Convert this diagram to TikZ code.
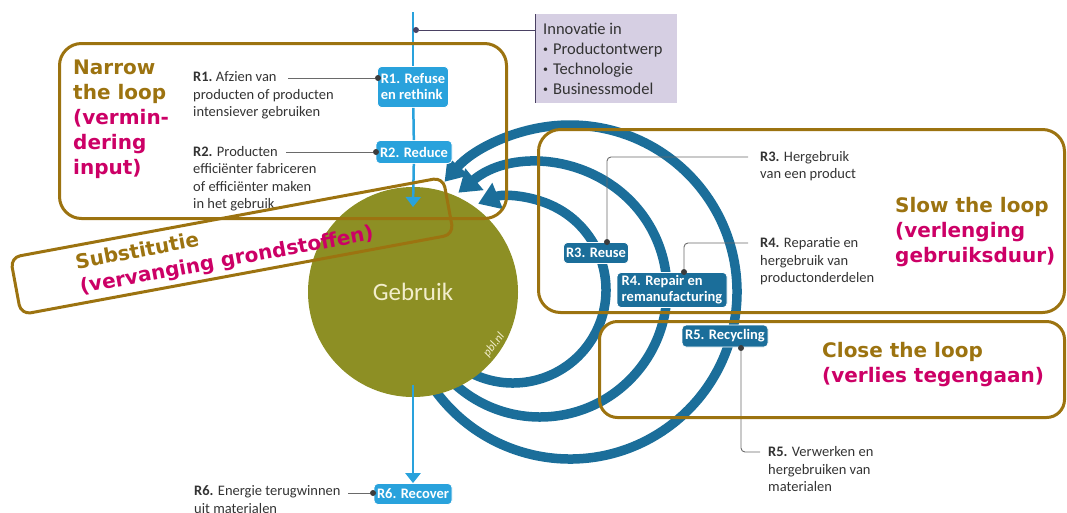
\documentclass[tikz,border=0pt]{standalone}
\usepackage{fontspec}
\setmainfont{Carlito}
\newfontfamily\annotfont{DejaVu Sans}
\usetikzlibrary{arrows.meta}
\definecolor{lblue}{HTML}{29A2DC}
\definecolor{dblue}{HTML}{1B6E9A}
\definecolor{olivec}{HTML}{8D8F24}
\definecolor{brownc}{HTML}{9C7310}
\definecolor{magc}{HTML}{CC0066}
\definecolor{lav}{HTML}{D6CFE3}
\definecolor{lavline}{HTML}{4A4163}
\definecolor{cream}{HTML}{F2EDCB}
\definecolor{greyc}{HTML}{6A6A6A}
\definecolor{dotc}{HTML}{3C3C3C}
\definecolor{txt}{HTML}{333333}
\newcommand{\smallbul}{\raisebox{0.25ex}{\scalebox{0.6}{\textbullet}}\hspace{5pt}}
\begin{document}
\begin{tikzpicture}[x=1pt,y=1pt,
  lbox/.style={fill=lblue, draw=white, line width=0.8pt, rounded corners=4pt, text=white,
    font=\fontsize{14.5}{16}\selectfont\bfseries, inner sep=1pt, align=left},
  dbox/.style={fill=dblue, draw=white, line width=0.8pt, rounded corners=4pt, text=white,
    font=\fontsize{14.5}{16}\selectfont\bfseries, inner sep=1pt, align=left},
  desc/.style={text=txt, font=\fontsize{14.5}{17.5}\selectfont, align=left, anchor=west, inner sep=0pt},
  conn/.style={draw=greyc, line width=0.9pt, rounded corners=4pt},
  cdot/.style={circle, fill=dotc, inner sep=0pt, minimum size=6pt},
  loopbox/.style={draw=brownc, line width=3pt, rounded corners=22pt, inner sep=0pt},
  annot/.style={font=\annotfont\bfseries\fontsize{20}{25}\selectfont, text=brownc, align=left, anchor=west, inner sep=0pt},
  arcline/.style={draw=dblue, line width=9.5pt, -{Triangle[length=21pt,width=27pt]}},
  vline/.style={draw=lblue, line width=2.5pt},
  varrow/.style={vline, -{Triangle[length=10pt,width=15pt]}},
]
\useasboundingbox (0,0) rectangle (1067,-512);

% arc centres
\coordinate (cI) at (513,-290);
\coordinate (cM) at (540,-290);
\coordinate (cO) at (570,-292);

% recycling loops
\draw[arcline] ([shift={(244:93)}]cI) arc[start angle=244, end angle=472, radius=93];
\draw[arcline] ([shift={(226:127)}]cM) arc[start angle=226, end angle=490, radius=127];
\draw[arcline] ([shift={(215:167)}]cO) arc[start angle=215, end angle=498.7, radius=167];

% central circle
\node[circle, fill=olivec, minimum size=210pt, inner sep=0pt, text=cream,
      font=\fontsize{25}{28}\selectfont] (gebruik) at (413,-292) {Gebruik};
\node[text=cream, font=\fontsize{12}{13}\selectfont\itshape, rotate=53, inner sep=0pt] (pbl) at (494,-345) {pbl.nl};

% vertical flow
\coordinate (top) at (413,-12);
\coordinate (tipA) at (413,-207);
\coordinate (botA) at (413,-385);
\node[lbox, minimum width=71pt, minimum height=41pt] (r1) at (413,-87) {R1. Refuse\\en rethink};
\node[lbox, minimum width=76pt, minimum height=23pt] (r2) at (414,-152) {R2. Reduce};
\node[lbox, minimum width=78pt, minimum height=21pt] (r6) at (413,-494) {R6. Recover};
\draw[vline] (top) -- (r1);
\draw[vline] (r1) -- (r2);
\draw[varrow] (r2) -- (tipA);
\draw[varrow] (botA) -- (r6);

% innovation box
\node[fill=lav, minimum width=142pt, minimum height=89pt, anchor=north west, inner sep=0pt] (innov) at (535,-14) {};
\draw[lavline, line width=1pt] (innov.north west) -- (innov.south west);
\node[text=txt, font=\fontsize{16.5}{20}\selectfont, align=left, anchor=west, inner sep=0pt] (innovtxt) at (543,-59)
  {Innovatie in\\\smallbul Productontwerp\\\smallbul Technologie\\\smallbul Businessmodel};
\node[circle, fill=lavline, inner sep=0pt, minimum size=6pt] (idot) at (416,-30) {};
\draw[lavline, line width=1pt] (idot) -- (idot -| innov.west);

% descriptions left
\node[desc] (d1) at (193,-95.5) {\textbf{R1.}\ Afzien van\\producten of producten\\intensiever gebruiken};
\node[desc] (d2) at (193,-178.5) {\textbf{R2.} Producten\\efficiënter fabriceren\\of efficiënter maken\\in het gebruik};
\node[desc] (d6) at (194,-499.5) {\textbf{R6.} Energie terugwinnen\\uit materialen};
\coordinate (d1e) at (288,-78);
\coordinate (d2e) at (286,-152);
\coordinate (d6e) at (348,-493);
\node[cdot] (r1d) at (378,-78) {};
\node[cdot] (r2d) at (376,-152) {};
\node[cdot] (r6d) at (373,-493) {};
\draw[conn] (d1e) -- (r1d);
\draw[conn] (d2e) -- (r2d);
\draw[conn] (d6e) -- (r6d);

% dark boxes on loops
\node[dbox, minimum width=65pt, minimum height=21pt] (r3) at (596,-253) {R3. Reuse};
\node[dbox, minimum width=110pt, minimum height=35pt] (r4) at (672,-290) {R4. Repair en\\remanufacturing};
\node[dbox, minimum width=86pt, minimum height=22pt] (r5) at (725,-336) {R5. Recycling};

% descriptions right
\node[desc] (d3) at (760,-166) {\textbf{R3.} Hergebruik\\van een product};
\node[desc] (d4) at (760,-261.5) {\textbf{R4.} Reparatie en\\hergebruik van\\productonderdelen};
\node[desc] (d5) at (768,-469.5) {\textbf{R5.} Verwerken en\\hergebruiken van\\materialen};
\node[cdot] (r3d) at (607,-242) {};
\node[cdot] (r4d) at (684,-272) {};
\node[cdot] (r5d) at (741,-348) {};
\coordinate (d3e) at (748,-157);
\coordinate (d4e) at (748,-243);
\coordinate (d5e) at (760,-452);
\draw[conn] (r3d) |- (d3e);
\draw[conn] (r4d) |- (d4e);
\draw[conn] (r5d) |- (d5e);

% loop annotation boxes
\node[loopbox, minimum width=447pt, minimum height=175pt, anchor=north west] (narrowbox) at (58,-42) {};
\node[loopbox, minimum width=526pt, minimum height=183pt, anchor=north west] (slowbox) at (537,-128) {};
\node[loopbox, minimum width=465pt, minimum height=96pt, anchor=north west, rounded corners=18pt] (closebox) at (598,-320) {};
\node[loopbox, minimum width=440pt, minimum height=58pt, rotate=10.5, rounded corners=10pt] (subbox) at (232,-246) {};

\node[annot] (narrowtxt) at (73,-119) {Narrow\\the loop\\\textcolor{magc}{(vermin-}\\\textcolor{magc}{dering}\\\textcolor{magc}{input)}};
\node[annot] (slowtxt) at (895,-232) {Slow the loop\\\textcolor{magc}{(verlenging}\\\textcolor{magc}{gebruiksduur)}};
\node[annot] (closetxt) at (822,-365) {Close the loop\\\textcolor{magc}{(verlies tegengaan)}};
\node[annot, rotate=10.5] (subtxt) at (78,-276) {Substitutie\\\textcolor{magc}{(vervanging grondstoffen)}};
\end{tikzpicture}
\end{document}
